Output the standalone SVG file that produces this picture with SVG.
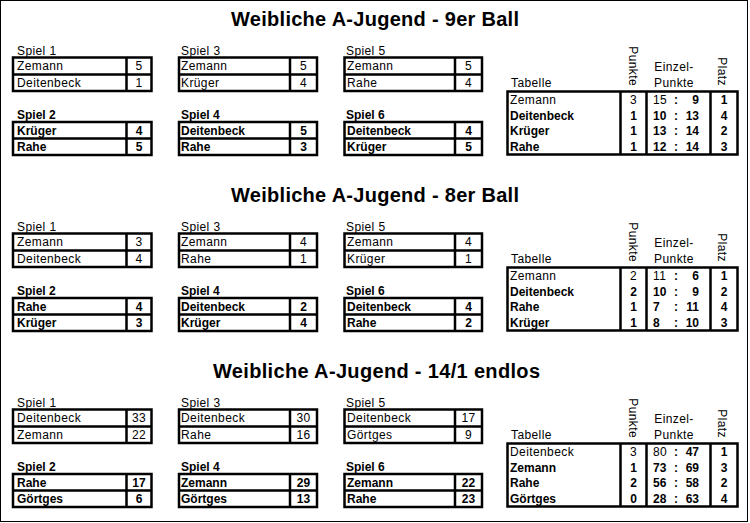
<svg xmlns="http://www.w3.org/2000/svg" width="750" height="523" viewBox="0 0 750 523">
<style>
text{font-family:"Liberation Sans",Arial,sans-serif;font-size:12px;fill:#000}
text:not(.b):not(.t){letter-spacing:0.4px}
.b{font-weight:bold}
.m{text-anchor:middle}
.e{text-anchor:end}
.t{font-size:20px;font-weight:bold;text-anchor:middle}
.bx{fill:none;stroke:#000;stroke-width:2.5}
.fr{fill:none;stroke:#000;stroke-width:1}
</style>
<rect x="0" y="0" width="750" height="523" fill="#fff"/>
<rect class="fr" x="0.5" y="0.5" width="747" height="521"/>
<g id="connectors"/>

<!-- Section 1 -->
<g id="sec1">
<text id="title1" class="t" x="375" y="26" textLength="288" lengthAdjust="spacing">Weibliche A-Jugend - 9er Ball</text>
<g id="s1-spiel1">
<text x="17" y="55">Spiel 1</text>
<rect class="bx" x="13" y="57.5" width="138.5" height="33.5"/><path class="bx" d="M13 74.5H151.5M126.5 57.5V91"/>
<text x="17" y="70">Zemann</text><text class="m" x="139" y="70">5</text>
<text x="17" y="86.5">Deitenbeck</text><text class="m" x="139" y="86.5">1</text>
</g>
<g id="s1-spiel3">
<text x="181" y="55">Spiel 3</text>
<rect class="bx" x="179" y="57.5" width="138" height="33.5"/><path class="bx" d="M179 74.5H317M290 57.5V91"/>
<text x="181" y="70">Zemann</text><text class="m" x="303.5" y="70">5</text>
<text x="181" y="86.5">Krüger</text><text class="m" x="303.5" y="86.5">4</text>
</g>
<g id="s1-spiel5">
<text x="346" y="55">Spiel 5</text>
<rect class="bx" x="344.5" y="57.5" width="137.5" height="33.5"/><path class="bx" d="M344.5 74.5H482M455 57.5V91"/>
<text x="347" y="70">Zemann</text><text class="m" x="468.5" y="70">5</text>
<text x="347" y="86.5">Rahe</text><text class="m" x="468.5" y="86.5">4</text>
</g>
<g id="s1-spiel2">
<text class="b" x="17" y="119">Spiel 2</text>
<rect class="bx" x="13" y="122" width="138.5" height="33"/><path class="bx" d="M13 138.5H151.5M126.5 122V155"/>
<text class="b" x="17" y="134.5">Krüger</text><text class="b m" x="139" y="134.5">4</text>
<text class="b" x="17" y="151">Rahe</text><text class="b m" x="139" y="151">5</text>
</g>
<g id="s1-spiel4">
<text class="b" x="181" y="119">Spiel 4</text>
<rect class="bx" x="179" y="122" width="138" height="33"/><path class="bx" d="M179 138.5H317M290 122V155"/>
<text class="b" x="181" y="134.5">Deitenbeck</text><text class="b m" x="303.5" y="134.5">5</text>
<text class="b" x="181" y="151">Rahe</text><text class="b m" x="303.5" y="151">3</text>
</g>
<g id="s1-spiel6">
<text class="b" x="346" y="119">Spiel 6</text>
<rect class="bx" x="344.5" y="122" width="137.5" height="33"/><path class="bx" d="M344.5 138.5H482M455 122V155"/>
<text class="b" x="347" y="134.5">Deitenbeck</text><text class="b m" x="468.5" y="134.5">4</text>
<text class="b" x="347" y="151">Krüger</text><text class="b m" x="468.5" y="151">5</text>
</g>
<g id="s1-tabelle">
<text x="511" y="87">Tabelle</text>
<text class="e" transform="translate(629,86) rotate(90)">Punkte</text>
<text class="m" x="674" y="71">Einzel-</text>
<text class="m" x="674" y="87">Punkte</text>
<text class="e" transform="translate(718,86) rotate(90)">Platz</text>
<rect class="bx" x="507.5" y="91.5" width="230" height="63"/><path class="bx" d="M620.5 91.5V154.5M646.5 91.5V154.5M710.5 91.5V154.5"/>
<text x="510" y="103.5">Zemann</text><text class="m" x="633.5" y="103.5">3</text><text x="653" y="103.5">15</text><text class="b m" x="676" y="103.5">:</text><text class="b e" x="699" y="103.5">9</text><text class="b m" x="724" y="103.5">1</text>
<text class="b" x="510" y="119.5">Deitenbeck</text><text class="b m" x="633.5" y="119.5">1</text><text class="b" x="653" y="119.5">10</text><text class="b m" x="676" y="119.5">:</text><text class="b e" x="699" y="119.5">13</text><text class="b m" x="724" y="119.5">4</text>
<text class="b" x="510" y="135.2">Krüger</text><text class="b m" x="633.5" y="135.2">1</text><text class="b" x="653" y="135.2">13</text><text class="b m" x="676" y="135.2">:</text><text class="b e" x="699" y="135.2">14</text><text class="b m" x="724" y="135.2">2</text>
<text class="b" x="510" y="151">Rahe</text><text class="b m" x="633.5" y="151">1</text><text class="b" x="653" y="151">12</text><text class="b m" x="676" y="151">:</text><text class="b e" x="699" y="151">14</text><text class="b m" x="724" y="151">3</text>
</g>
</g>

<!-- Section 2 -->
<g id="sec2" transform="translate(0,176)">
<text id="title2" class="t" x="375" y="26" textLength="288" lengthAdjust="spacing">Weibliche A-Jugend - 8er Ball</text>
<g id="s2-spiel1">
<text x="17" y="55">Spiel 1</text>
<rect class="bx" x="13" y="57.5" width="138.5" height="33.5"/><path class="bx" d="M13 74.5H151.5M126.5 57.5V91"/>
<text x="17" y="70">Zemann</text><text class="m" x="139" y="70">3</text>
<text x="17" y="86.5">Deitenbeck</text><text class="m" x="139" y="86.5">4</text>
</g>
<g id="s2-spiel3">
<text x="181" y="55">Spiel 3</text>
<rect class="bx" x="179" y="57.5" width="138" height="33.5"/><path class="bx" d="M179 74.5H317M290 57.5V91"/>
<text x="181" y="70">Zemann</text><text class="m" x="303.5" y="70">4</text>
<text x="181" y="86.5">Rahe</text><text class="m" x="303.5" y="86.5">1</text>
</g>
<g id="s2-spiel5">
<text x="346" y="55">Spiel 5</text>
<rect class="bx" x="344.5" y="57.5" width="137.5" height="33.5"/><path class="bx" d="M344.5 74.5H482M455 57.5V91"/>
<text x="347" y="70">Zemann</text><text class="m" x="468.5" y="70">4</text>
<text x="347" y="86.5">Krüger</text><text class="m" x="468.5" y="86.5">1</text>
</g>
<g id="s2-spiel2">
<text class="b" x="17" y="119">Spiel 2</text>
<rect class="bx" x="13" y="122" width="138.5" height="33"/><path class="bx" d="M13 138.5H151.5M126.5 122V155"/>
<text class="b" x="17" y="134.5">Rahe</text><text class="b m" x="139" y="134.5">4</text>
<text class="b" x="17" y="151">Krüger</text><text class="b m" x="139" y="151">3</text>
</g>
<g id="s2-spiel4">
<text class="b" x="181" y="119">Spiel 4</text>
<rect class="bx" x="179" y="122" width="138" height="33"/><path class="bx" d="M179 138.5H317M290 122V155"/>
<text class="b" x="181" y="134.5">Deitenbeck</text><text class="b m" x="303.5" y="134.5">2</text>
<text class="b" x="181" y="151">Krüger</text><text class="b m" x="303.5" y="151">4</text>
</g>
<g id="s2-spiel6">
<text class="b" x="346" y="119">Spiel 6</text>
<rect class="bx" x="344.5" y="122" width="137.5" height="33"/><path class="bx" d="M344.5 138.5H482M455 122V155"/>
<text class="b" x="347" y="134.5">Deitenbeck</text><text class="b m" x="468.5" y="134.5">4</text>
<text class="b" x="347" y="151">Rahe</text><text class="b m" x="468.5" y="151">2</text>
</g>
<g id="s2-tabelle">
<text x="511" y="87">Tabelle</text>
<text class="e" transform="translate(629,86) rotate(90)">Punkte</text>
<text class="m" x="674" y="71">Einzel-</text>
<text class="m" x="674" y="87">Punkte</text>
<text class="e" transform="translate(718,86) rotate(90)">Platz</text>
<rect class="bx" x="507.5" y="91.5" width="230" height="63"/><path class="bx" d="M620.5 91.5V154.5M646.5 91.5V154.5M710.5 91.5V154.5"/>
<text x="510" y="103.5">Zemann</text><text class="m" x="633.5" y="103.5">2</text><text x="653" y="103.5">11</text><text class="b m" x="676" y="103.5">:</text><text class="b e" x="699" y="103.5">6</text><text class="b m" x="724" y="103.5">1</text>
<text class="b" x="510" y="119.5">Deitenbeck</text><text class="b m" x="633.5" y="119.5">2</text><text class="b" x="653" y="119.5">10</text><text class="b m" x="676" y="119.5">:</text><text class="b e" x="699" y="119.5">9</text><text class="b m" x="724" y="119.5">2</text>
<text class="b" x="510" y="135.2">Rahe</text><text class="b m" x="633.5" y="135.2">1</text><text class="b" x="653" y="135.2">7</text><text class="b m" x="676" y="135.2">:</text><text class="b e" x="699" y="135.2">11</text><text class="b m" x="724" y="135.2">4</text>
<text class="b" x="510" y="151">Krüger</text><text class="b m" x="633.5" y="151">1</text><text class="b" x="653" y="151">8</text><text class="b m" x="676" y="151">:</text><text class="b e" x="699" y="151">10</text><text class="b m" x="724" y="151">3</text>
</g>
</g>

<!-- Section 3 -->
<g id="sec3" transform="translate(0,352)">
<text id="title3" class="t" x="376.5" y="26" textLength="327" lengthAdjust="spacing">Weibliche A-Jugend - 14/1 endlos</text>
<g id="s3-spiel1">
<text x="17" y="55">Spiel 1</text>
<rect class="bx" x="13" y="57.5" width="138.5" height="33.5"/><path class="bx" d="M13 74.5H151.5M126.5 57.5V91"/>
<text x="17" y="70">Deitenbeck</text><text class="m" x="139" y="70">33</text>
<text x="17" y="86.5">Zemann</text><text class="m" x="139" y="86.5">22</text>
</g>
<g id="s3-spiel3">
<text x="181" y="55">Spiel 3</text>
<rect class="bx" x="179" y="57.5" width="138" height="33.5"/><path class="bx" d="M179 74.5H317M290 57.5V91"/>
<text x="181" y="70">Deitenbeck</text><text class="m" x="303.5" y="70">30</text>
<text x="181" y="86.5">Rahe</text><text class="m" x="303.5" y="86.5">16</text>
</g>
<g id="s3-spiel5">
<text x="346" y="55">Spiel 5</text>
<rect class="bx" x="344.5" y="57.5" width="137.5" height="33.5"/><path class="bx" d="M344.5 74.5H482M455 57.5V91"/>
<text x="347" y="70">Deitenbeck</text><text class="m" x="468.5" y="70">17</text>
<text x="347" y="86.5">Görtges</text><text class="m" x="468.5" y="86.5">9</text>
</g>
<g id="s3-spiel2">
<text class="b" x="17" y="119">Spiel 2</text>
<rect class="bx" x="13" y="122" width="138.5" height="33"/><path class="bx" d="M13 138.5H151.5M126.5 122V155"/>
<text class="b" x="17" y="134.5">Rahe</text><text class="b m" x="139" y="134.5">17</text>
<text class="b" x="17" y="151">Görtges</text><text class="b m" x="139" y="151">6</text>
</g>
<g id="s3-spiel4">
<text class="b" x="181" y="119">Spiel 4</text>
<rect class="bx" x="179" y="122" width="138" height="33"/><path class="bx" d="M179 138.5H317M290 122V155"/>
<text class="b" x="181" y="134.5">Zemann</text><text class="b m" x="303.5" y="134.5">29</text>
<text class="b" x="181" y="151">Görtges</text><text class="b m" x="303.5" y="151">13</text>
</g>
<g id="s3-spiel6">
<text class="b" x="346" y="119">Spiel 6</text>
<rect class="bx" x="344.5" y="122" width="137.5" height="33"/><path class="bx" d="M344.5 138.5H482M455 122V155"/>
<text class="b" x="347" y="134.5">Zemann</text><text class="b m" x="468.5" y="134.5">22</text>
<text class="b" x="347" y="151">Rahe</text><text class="b m" x="468.5" y="151">23</text>
</g>
<g id="s3-tabelle">
<text x="511" y="87">Tabelle</text>
<text class="e" transform="translate(629,86) rotate(90)">Punkte</text>
<text class="m" x="674" y="71">Einzel-</text>
<text class="m" x="674" y="87">Punkte</text>
<text class="e" transform="translate(718,86) rotate(90)">Platz</text>
<rect class="bx" x="507.5" y="91.5" width="230" height="63"/><path class="bx" d="M620.5 91.5V154.5M646.5 91.5V154.5M710.5 91.5V154.5"/>
<text x="510" y="103.5">Deitenbeck</text><text class="m" x="633.5" y="103.5">3</text><text x="653" y="103.5">80</text><text class="b m" x="676" y="103.5">:</text><text class="b e" x="699" y="103.5">47</text><text class="b m" x="724" y="103.5">1</text>
<text class="b" x="510" y="119.5">Zemann</text><text class="b m" x="633.5" y="119.5">1</text><text class="b" x="653" y="119.5">73</text><text class="b m" x="676" y="119.5">:</text><text class="b e" x="699" y="119.5">69</text><text class="b m" x="724" y="119.5">3</text>
<text class="b" x="510" y="135.2">Rahe</text><text class="b m" x="633.5" y="135.2">2</text><text class="b" x="653" y="135.2">56</text><text class="b m" x="676" y="135.2">:</text><text class="b e" x="699" y="135.2">58</text><text class="b m" x="724" y="135.2">2</text>
<text class="b" x="510" y="151">Görtges</text><text class="b m" x="633.5" y="151">0</text><text class="b" x="653" y="151">28</text><text class="b m" x="676" y="151">:</text><text class="b e" x="699" y="151">63</text><text class="b m" x="724" y="151">4</text>
</g>
</g>
</svg>
